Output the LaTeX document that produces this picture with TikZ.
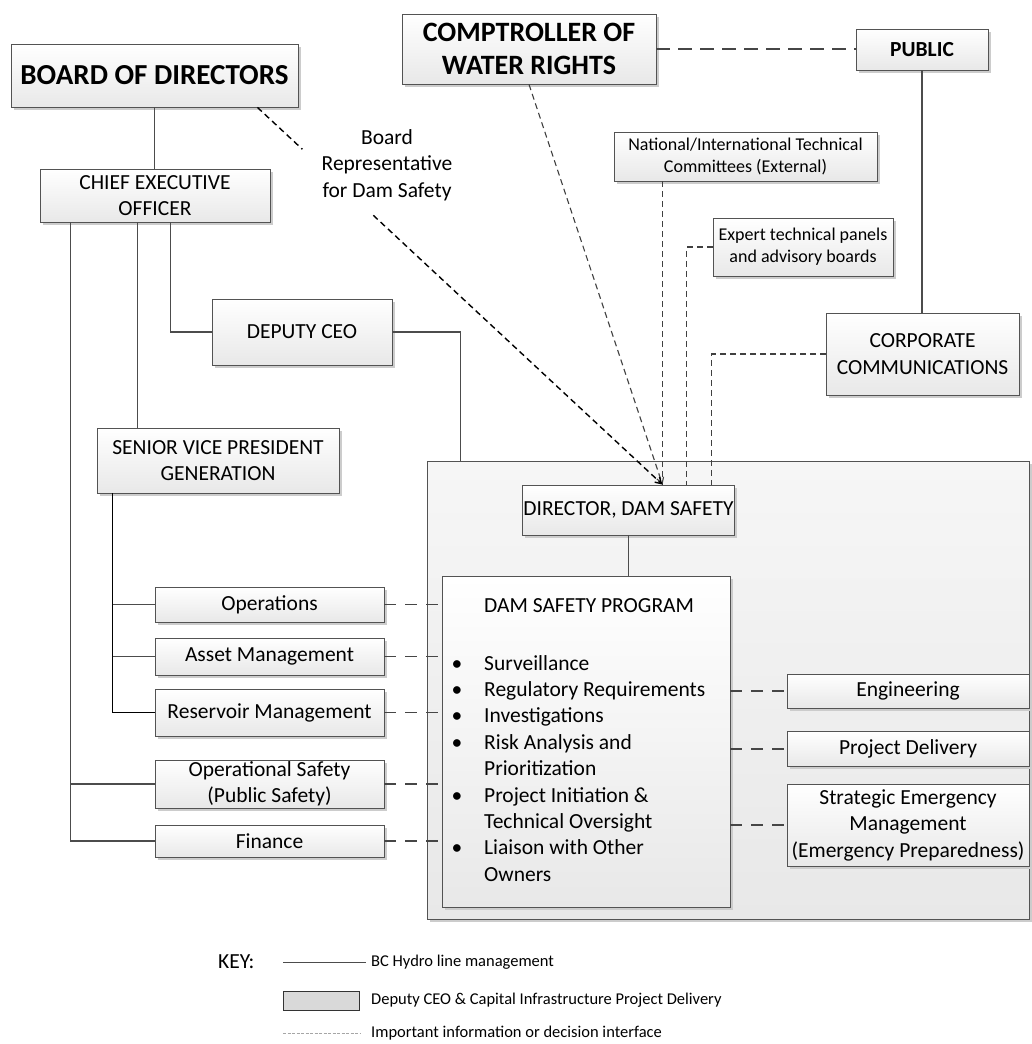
\documentclass[tikz,border=0pt]{standalone}
\usepackage{fontspec}
\setmainfont{Carlito}
\usetikzlibrary{calc,shadows,arrows.meta}
\begin{document}
\begin{tikzpicture}[x=1pt,y=-1pt,
  box/.style={draw=gray!65!black, line width=0.8pt, top color=white, bottom color=gray!18,
    drop shadow={shadow xshift=2.5pt, shadow yshift=-2.5pt, fill=gray!40, opacity=1},
    align=center, inner sep=1pt, font=\fontsize{21.5}{26.5}\selectfont},
  bigbox/.style={draw=gray!65!black, line width=0.8pt, top color=gray!7, bottom color=gray!18,
    drop shadow={shadow xshift=2.5pt, shadow yshift=-2.5pt, fill=gray!40, opacity=1}, inner sep=0pt},
  small/.style={font=\fontsize{18}{21.8}\selectfont},
  ln/.style={draw=gray!60!black, line width=1.2pt},
  lnb/.style={draw=black, line width=1.7pt},
  ifc/.style={draw=gray!55!black, line width=1.2pt, dash pattern=on 12pt off 9pt},
  conv/.style={draw=black!75, line width=1.1pt, dash pattern=on 6pt off 4pt},
  bdl/.style={draw=black, line width=1.4pt, dash pattern=on 6pt off 4pt},
  longd/.style={draw=gray!55!black, line width=1.2pt, dash pattern=on 14pt off 8pt},
  txt/.style={font=\fontsize{21.5}{26.4}\selectfont, inner sep=0pt},
  keytxt/.style={font=\fontsize{16.5}{20}\selectfont, inner sep=0pt, anchor=west}
]
\useasboundingbox (0,0) rectangle (1031,1044);

% big grey area
\node[bigbox, minimum width=602pt, minimum height=458pt] (big) at (728,690) {};

% top nodes
\node[box, minimum width=287pt, minimum height=63pt, font=\bfseries\fontsize{29}{35}\selectfont] (board) at (154.5,75.5) {BOARD OF DIRECTORS};
\node[box, minimum width=254pt, minimum height=70pt, font=\bfseries\fontsize{28}{33}\selectfont] (comp) at (529,49) {COMPTROLLER OF\\WATER RIGHTS};
\node[box, minimum width=132pt, minimum height=41pt, font=\bfseries\fontsize{21.5}{26}\selectfont] (public) at (922,49.5) {PUBLIC};
\node[box, small, minimum width=263pt, minimum height=49pt] (natl) at (745.5,156.5) {National/International Technical\\Committees (External)};
\node[box, small, minimum width=180pt, minimum height=58pt] (expert) at (803,247) {Expert technical panels\\and advisory boards};
\node[box, minimum width=193pt, minimum height=82pt] (corp) at (922.5,354) {CORPORATE\\COMMUNICATIONS};

\node[box, minimum width=230pt, minimum height=53pt] (ceo) at (155,195.5) {CHIEF EXECUTIVE\\OFFICER};
\node[box, minimum width=180pt, minimum height=66pt] (dep) at (302,332) {DEPUTY CEO};
\node[box, minimum width=242pt, minimum height=65pt] (svp) at (218,460.5) {SENIOR VICE PRESIDENT\\GENERATION};

\node[box, minimum width=229pt, minimum height=35pt] (ops) at (269.5,604.5) {Operations};
\node[box, minimum width=229pt, minimum height=37pt] (asset) at (269.5,656.5) {Asset Management};
\node[box, minimum width=229pt, minimum height=47pt] (res) at (269.5,712.5) {Reservoir Management};
\node[box, minimum width=229pt, minimum height=48pt] (opsafe) at (269.5,784) {Operational Safety\\(Public Safety)};
\node[box, minimum width=229pt, minimum height=32pt] (fin) at (269.5,841) {Finance};

\node[box, minimum width=197pt, minimum height=50pt] (dir) at (628.5,510) {DIRECTOR, DAM SAFETY};
\node[box, minimum width=288pt, minimum height=331pt] (dsp) at (586,741.5) {};

\node[box, minimum width=242pt, minimum height=34pt] (eng) at (908,691) {Engineering};
\node[box, minimum width=242pt, minimum height=35pt] (pd) at (908,749) {Project Delivery};
\node[box, minimum width=242pt, minimum height=82pt] (sem) at (908,825) {Strategic Emergency\\Management\\(Emergency Preparedness)};

% DSP text
\node[txt, anchor=base west] (dsptitle) at (484,612) {DAM SAFETY PROGRAM};
\foreach \t [count=\i] in {Surveillance, Regulatory Requirements, Investigations, Risk Analysis and, Prioritization, Project Initiation \&, Technical Oversight, Liaison with Other, Owners}
  \node[txt, anchor=base west] (item\i) at (484,{670+26.4*(\i-1)}) {\t};
\foreach \i in {1,2,3,4,6,8}
  \node[txt, anchor=base] (bul\i) at (457,{670+26.4*(\i-1)}) {•};

% label
\node[txt, align=center] (rep) at (387,165) {Board\\Representative\\for Dam Safety};

% solid connectors
\draw[ln] (board.south) -- (board.south |- ceo.north);
\coordinate (c0) at ([xshift=31pt]ceo.south west);
\coordinate (c1) at ([xshift=98pt]ceo.south west);
\coordinate (c2) at ([xshift=131pt]ceo.south west);
\draw[ln] (c0) |- (fin.west);
\draw[ln] (c0 |- opsafe.west) -- (opsafe.west);
\draw[ln] (c1) -- (c1 |- svp.north);
\draw[ln] (c2) |- (dep.west);
\coordinate (c3) at ([xshift=34pt]big.north west);
\draw[ln] (dep.east) -| (c3);
\coordinate (c4) at ([xshift=16pt]svp.south west);
\draw[lnb] (c4) |- (res.west);
\draw[ln] (c4 |- ops.west) -- (ops.west);
\draw[ln] (c4 |- asset.west) -- (asset.west);
\draw[ln] (dir.south) -- (dir.south |- dsp.north);
\draw[ln] (public.south) -- (public.south |- corp.north);

% interface dashed lines
\foreach \n in {ops,asset,res,opsafe,fin}
  \draw[ifc] (\n.east) -- (\n.east -| dsp.west);
\foreach \n in {eng,pd}
  \draw[ifc] (dsp.east |- \n.west) -- (\n.west);
\draw[ifc] (dsp.east |- sem.west) -- (sem.west);
\draw[longd] (comp.east) -- (comp.east -| public.west);

% converging lines to director
\coordinate (tip) at ([xshift=34pt]dir.north);
\coordinate (e1) at ([xshift=58pt]dir.north);
\coordinate (e2) at ([xshift=83pt]dir.north);
\draw[conv] (natl.south -| tip) -- (tip);
\draw[conv] (expert.west) -| (e1);
\draw[conv] (corp.west) -| (e2);
\draw[conv, -{Straight Barb[length=6pt,width=7pt]}] (comp.south) -- (tip);
\coordinate (b0) at ([xshift=-41pt]board.south east);
\draw[bdl] (b0) -- ($(b0)!0.111!(tip)$);
\draw[bdl, -{Straight Barb[length=6pt,width=7pt]}] ($(b0)!0.286!(tip)$) -- (tip);

% key
\node[txt, anchor=west] (key) at (218,962) {KEY:};
\coordinate (k1) at (283,962);
\coordinate (k1e) at (366,962);
\draw[draw=gray!60!black, line width=0.9pt] (k1) -- (k1e);
\node[keytxt] (kt1) at (371,962) {BC Hydro line management};
\node[draw=black!80, line width=0.8pt, fill=gray!30, minimum width=76pt, minimum height=19pt, inner sep=0pt, anchor=north west] (krect) at (283,991) {};
\node[keytxt] (kt2) at (371,1000.5) {Deputy CEO \& Capital Infrastructure Project Delivery};
\coordinate (k3) at (283,1033);
\coordinate (k3e) at (360,1033);
\draw[draw=gray!70, line width=0.8pt, dash pattern=on 3pt off 1.5pt] (k3) -- (k3e);
\node[keytxt] (kt3) at (371,1033) {Important information or decision interface};
\end{tikzpicture}
\end{document}
